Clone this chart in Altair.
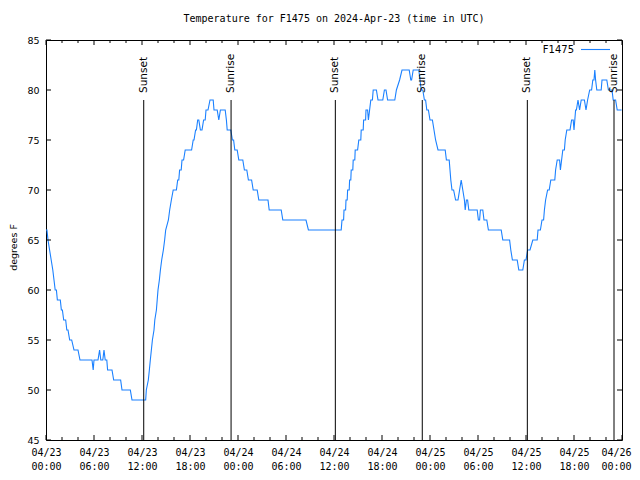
import altair as alt
import pandas as pd

# ---------------- data ----------------
start = "2024-04-23T00:00:00Z"

# hours since 2024-04-23 00:00 UTC
hours = [0.0, 0.12, 0.25, 0.45, 0.65, 0.85, 1.0, 1.15, 1.3, 1.42, 1.79, 1.92, 2.05, 2.21, 2.46, 2.6, 2.75, 2.96, 3.21,
         3.5, 4.0, 4.25, 5.75, 5.9, 6.0, 6.5, 6.7, 6.85, 7.1, 7.25, 7.4, 7.6, 7.7, 8.25, 8.46, 9.33, 9.5, 10.54, 10.75,
         12.46, 12.54, 12.79, 12.92, 13.04, 13.17, 13.3, 13.5, 13.6, 13.8, 13.9, 14.0, 14.17, 14.3, 14.46, 14.67, 14.83,
         14.96, 15.3, 15.46, 15.67, 15.9, 16.3, 16.46, 16.6, 16.7, 16.9, 17.0, 17.2, 17.4, 18.2, 18.4, 18.5, 18.7, 18.8,
         18.96, 19.1, 19.3, 19.5, 19.7, 19.9, 20.0, 20.25, 20.5, 20.9, 21.0, 21.4, 21.6, 21.8, 22.4, 22.55, 22.65, 23.1,
         23.3, 23.45, 23.6, 23.9, 24.1, 24.6, 24.8, 25.1, 25.3, 25.7, 25.9, 26.4, 26.6, 27.75, 27.9, 29.4, 29.6, 32.5,
         32.8, 36.9, 37.0, 37.2, 37.25, 37.45, 37.5, 37.65, 37.7, 37.9, 37.95, 38.1, 38.15, 38.35, 38.4, 38.6, 38.65,
         38.95, 39.1, 39.35, 39.4, 39.65, 39.7, 39.95, 40.0, 40.2, 40.3, 40.45, 40.6, 40.8, 40.9,
         41.3, 41.5, 42.1, 42.3, 42.5, 42.7, 43.6, 43.8, 44.2, 44.5, 45.4, 45.6, 45.7, 45.9, 46.6, 46.75, 46.9, 47.1,
         47.3, 47.45, 47.6, 47.8, 48.0, 48.3, 48.5, 48.7, 49.0, 49.9, 50.05, 50.4, 50.5, 50.6, 50.75, 50.95, 51.2, 51.5,
         51.7, 51.9, 52.1, 52.3, 52.4, 52.55, 52.7, 52.85, 53.9, 54.05, 54.2, 54.3, 54.6, 54.75, 55.1, 55.3, 56.9, 57.1,
         57.95, 58.1, 58.3, 58.9, 59.1, 59.6, 59.8, 60.0, 60.2, 60.5, 60.85, 61.4, 61.5, 61.8, 62.0, 62.2, 62.3, 62.45,
         62.7, 62.9, 63.1, 63.6, 63.7, 63.9, 64.2, 64.3, 64.45, 64.6, 64.8, 64.9, 65.1, 65.5, 65.7, 65.9, 66.0, 66.2,
         66.3, 66.5, 66.7, 66.9, 67.3, 67.5, 67.7, 67.96, 68.2, 68.35, 68.5, 68.6, 68.7, 68.85, 69.4, 69.5, 70.1, 70.3,
         70.5, 70.75, 70.9, 71.2, 71.4, 71.95]
temps = [66, 66, 65, 64, 63, 62, 61, 60, 60, 59, 59, 58, 58, 57, 57, 56, 56, 55, 55,
         54, 54, 53, 53, 52, 53, 53, 54, 53, 53, 54, 53, 53, 52, 52, 51, 51, 50, 50, 49,
         49, 50, 51, 52, 53, 54, 55, 56, 57, 58, 59, 60, 61, 62, 63, 64, 65,
         66, 67, 68, 69, 70, 70, 71, 71, 72, 72, 73, 73, 74, 74, 75, 75, 76, 76,
         77, 77, 76, 76, 77, 77, 78, 78, 79, 79, 78, 78, 77, 78, 78, 77, 76, 76,
         75, 75, 74, 74, 73, 73, 72, 72, 71, 71, 70, 70, 69, 69, 68, 68, 67, 67,
         66, 66, 67, 67, 68, 68, 69, 69, 70, 70, 71, 71, 72, 72, 73, 73, 74,
         74, 75, 75, 76, 76, 77, 77, 78, 78, 77, 78, 79, 79, 80,
         80, 79, 79, 80, 80, 79, 79, 80, 81, 82, 82, 81, 81, 82, 82, 81, 80, 80,
         79, 79, 78, 78, 77, 77, 76, 75, 74, 74, 73, 73, 72, 71, 70, 70, 69, 69,
         70, 71, 70, 69, 68, 69, 69, 68, 68, 67, 67, 68, 68, 67, 67, 66, 66, 65,
         65, 64, 63, 63, 62, 62, 63, 63, 64, 64, 65, 65, 66, 66, 67, 67, 68, 69,
         70, 70, 71, 71, 72, 73, 73, 72, 73, 74, 74, 75, 76, 76, 77, 77, 76, 78,
         78, 79, 78, 79, 79, 78, 79, 80, 80, 81, 81, 82, 81, 80, 80, 81, 81, 80,
         80, 80, 79, 79, 78, 78]

event_times = ["2024-04-23T12:13:00Z", "2024-04-23T23:08:00Z", "2024-04-24T12:10:00Z",
               "2024-04-24T23:02:00Z", "2024-04-25T12:10:00Z", "2024-04-25T23:00:00Z"]
event_labels = ["Sunset", "Sunrise", "Sunset", "Sunrise", "Sunset", "Sunrise"]

series_name = "F1475"
y_ticks = [45, 50, 55, 60, 65, 70, 75, 80, 85]
major_step_h = 6
minor_step_h = 2
total_h = 72

# ---------------- tables ----------------
t0 = pd.Timestamp(start)
def iso(h):
    return (t0 + pd.to_timedelta(h, unit="h")).strftime("%Y-%m-%dT%H:%M:%SZ")

def ms(h):
    return int((t0 + pd.to_timedelta(h, unit="h")).value // 10**6)

temp_df = pd.DataFrame({"time": [iso(h) for h in hours], "temp": temps})
ev_df = pd.DataFrame({"time": event_times, "label": event_labels})
major_df = pd.DataFrame({"time": [iso(h) for h in range(0, total_h + 1, major_step_h)]})
minor_df = pd.DataFrame({"time": [iso(h) for h in range(0, total_h + 1, minor_step_h) if h % major_step_h]})
ytick_df = pd.DataFrame({"temp": y_ticks})
leg_df = pd.DataFrame({"series": [series_name]})

major_ms = [ms(h) for h in range(0, total_h + 1, major_step_h)]

W, H = 576, 400
BLUE = "#1a80ff"
MONO = "DejaVu Sans Mono"
SANS = "DejaVu Sans"

xs = alt.Scale(type="utc", domain=[ms(0), ms(total_h)], nice=False)
ys = alt.Scale(domain=[45, 85], nice=False, zero=False)

xa = alt.Axis(
    values=major_ms, title=None, grid=False, ticks=False, domain=False,
    labelExpr="[utcFormat(datum.value, '%m/%d'), utcFormat(datum.value, '%H:%M')]",
    labelFont=MONO, labelFontSize=10, labelColor="black", labelPadding=7,
    labelLineHeight=14, labelBaseline="top", labelAlign="center",
    labelOffset={"condition": {"test": f"datum.value > {ms(total_h - 1)}", "value": -6}, "value": 0},
    labelFlush=False, labelOverlap=False)
ya = alt.Axis(
    values=y_ticks, title="degrees F", grid=False, ticks=False, domain=False,
    labelFont=SANS, labelFontSize=9.5, labelColor="black", labelPadding=7,
    titleFont=SANS, titleFontSize=9.5, titleFontWeight="normal", titleColor="black",
    titlePadding=8, titleY=207)

X = alt.X("time:T", scale=xs, axis=xa)
Y = alt.Y("temp:Q", scale=ys, axis=ya)

line = alt.Chart(temp_df).mark_line(color=BLUE, strokeWidth=1.1).encode(x=X, y=Y)

rules = alt.Chart(ev_df).transform_calculate(temp="79", bot="45").mark_rule(
    color="black", strokeWidth=1).encode(x=X, y=Y, y2="bot:Q")

labels = alt.Chart(ev_df).transform_calculate(temp="79").mark_text(
    angle=270, align="left", baseline="middle", dx=7,
    font=SANS, fontSize=10.5, color="black").encode(x=X, y=Y, text="label:N")

def xticks(df, length):
    bottom = alt.Chart(df).mark_rule(color="black").encode(
        x=X, y=alt.value(H), y2=alt.value(H - length))
    top = alt.Chart(df).mark_rule(color="black").encode(
        x=X, y=alt.value(0), y2=alt.value(length))
    return [bottom, top]

yl = alt.Chart(ytick_df).mark_rule(color="black").encode(
    y=Y, x=alt.value(0), x2=alt.value(5))
yr = alt.Chart(ytick_df).mark_rule(color="black").encode(
    y=Y, x=alt.value(W), x2=alt.value(W - 5))

leg_text = alt.Chart(leg_df).mark_text(align="right", baseline="middle", font=SANS,
                                       fontSize=10, color="black").encode(
    x=alt.value(528), y=alt.value(10), text="series:N")
leg_line = alt.Chart(leg_df).mark_rule(color=BLUE, strokeWidth=1.1).encode(
    x=alt.value(535), x2=alt.value(564), y=alt.value(9.5))

chart = alt.layer(
    line, rules, labels, *xticks(major_df, 5), *xticks(minor_df, 3), yl, yr, leg_text, leg_line
).properties(
    width=W, height=H,
    title=alt.TitleParams("Temperature for F1475 on 2024-Apr-23 (time in UTC)",
                          font=MONO, fontSize=10, fontWeight="normal", color="black",
                          anchor="middle", frame="group", offset=11),
    autosize=alt.AutoSizeParams(type="none"),
    padding={"left": 38, "top": 32, "right": 10, "bottom": 32},
    background="white",
).configure_view(stroke="black", strokeWidth=1)

chart.save("out.html", embed_options={"renderer": "svg", "actions": False})
